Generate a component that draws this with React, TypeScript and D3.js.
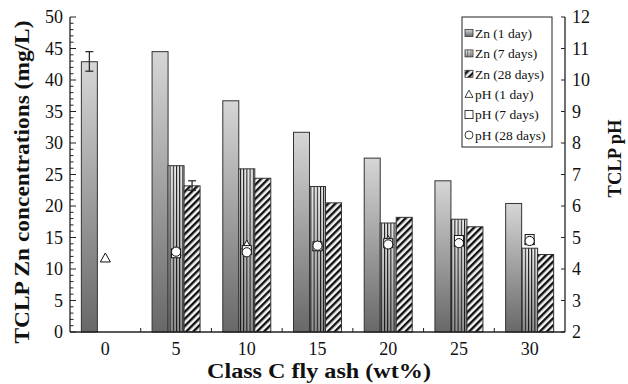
import React from "react";
import * as d3 from "d3";

const ashContents = ["0", "5", "10", "15", "20", "25", "30"];
const zn1Day = [42.9, 44.5, 36.7, 31.7, 27.6, 24.0, 20.4];
const zn7Day = [null, 26.4, 25.9, 23.1, 17.3, 17.9, 13.3];
const zn28Day = [null, 23.2, 24.4, 20.5, 18.2, 16.7, 12.3];
const ph1Day = [4.35, 4.55, 4.76, 4.72, 4.9, 4.85, 4.9];
const ph7Day = [null, 4.5, 4.6, 4.72, 4.82, 4.92, 4.95];
const ph28Day = [null, 4.55, 4.53, 4.74, 4.78, 4.82, 4.89];
// [category index, series (0=1d,1=7d,2=28d), low, high]
const errorBars = [
  [0, 0, 41.4, 44.5],
  [1, 2, 22.5, 24.0],
];
const znTicks = d3.range(0, 51, 5);
const phTicks = d3.range(2, 13, 1);
const legendItems = ["Zn (1 day)", "Zn (7 days)", "Zn (28 days)", "pH (1 day)", "pH (7 days)", "pH (28 days)"];

const W = 628;
const H = 384;
const margin = { top: 17, right: 63, bottom: 52, left: 70 };
const font = "'Liberation Serif', 'Times New Roman', serif";

export default function App() {
  const x = d3.scaleBand().domain(ashContents).range([margin.left, W - margin.right]);
  const y = d3.scaleLinear().domain([0, 50]).range([H - margin.bottom, margin.top]);
  const yPh = d3.scaleLinear().domain([2, 12]).range([H - margin.bottom, margin.top]);
  const barW = 16;
  const series = [zn1Day, zn7Day, zn28Day];
  const fills = ["url(#g1)", "url(#g7)", "url(#hatch)"];
  const barX = (i: number, s: number) => x(ashContents[i])! + x.bandwidth() / 2 - 1.5 * barW + s * barW;
  const cx = (i: number) => x(ashContents[i])! + x.bandwidth() / 2;
  const y0 = y(0);
  const xL = margin.left;
  const xR = W - margin.right;

  const bars: any[] = [];
  series.forEach((vals, s) => {
    vals.forEach((v, i) => {
      if (v == null) return;
      const bx = barX(i, s);
      bars.push(
        <g key={`b${s}-${i}`}>
          <rect x={bx} y={y(v)} width={barW} height={y0 - y(v)} fill={fills[s]} />
          {s === 1 && <rect x={bx} y={y(v)} width={barW} height={y0 - y(v)} fill="url(#vstripe)" />}
          <rect x={bx} y={y(v)} width={barW} height={y0 - y(v)} fill="none" stroke="#333" strokeWidth={1} />
        </g>
      );
    });
  });

  const tri = (px: number, py: number, r = 5) =>
    `M${px},${py - r}L${px + r},${py + r * 0.8}L${px - r},${py + r * 0.8}Z`;

  const legX = 462;

  return (
    <svg width={W} height={H} style={{ position: "absolute", left: 0, top: 0 }} fontFamily={font}>
      <defs>
        <linearGradient id="g1" x1="0" y1="0" x2="0" y2="1">
          <stop offset="0" stopColor="#d6d6d6" />
          <stop offset="1" stopColor="#686868" />
        </linearGradient>
        <linearGradient id="g7" x1="0" y1="0" x2="0" y2="1">
          <stop offset="0" stopColor="#e8e8e8" />
          <stop offset="1" stopColor="#8e8e8e" />
        </linearGradient>
        <pattern id="vstripe" patternUnits="userSpaceOnUse" width={3.2} height={10}>
          <rect x={0} y={0} width={1} height={10} fill="#111" />
        </pattern>
        <pattern id="hatch" patternUnits="userSpaceOnUse" width={5} height={5} patternTransform="rotate(45)">
          <rect x={0} y={0} width={5} height={5} fill="#f4f4f4" />
          <rect x={0} y={0} width={2.4} height={5} fill="#111" />
        </pattern>
      </defs>

      {bars}

      {errorBars.map(([i, s, lo, hi], k) => {
        const ex = barX(i, s) + barW / 2;
        return (
          <g key={`e${k}`} stroke="#222" strokeWidth={1.2}>
            <line x1={ex} x2={ex} y1={y(lo)} y2={y(hi)} />
            <line x1={ex - 4} x2={ex + 4} y1={y(lo)} y2={y(lo)} />
            <line x1={ex - 4} x2={ex + 4} y1={y(hi)} y2={y(hi)} />
          </g>
        );
      })}

      {ph1Day.map((v, i) =>
        v == null ? null : <path key={`t${i}`} d={tri(cx(i), yPh(v))} fill="#fff" stroke="#111" strokeWidth={1} />
      )}
      {ph7Day.map((v, i) =>
        v == null ? null : (
          <rect key={`s${i}`} x={cx(i) - 4.5} y={yPh(v) - 4.5} width={9} height={9} fill="#fff" stroke="#111" strokeWidth={1} />
        )
      )}
      {ph28Day.map((v, i) =>
        v == null ? null : <circle key={`c${i}`} cx={cx(i)} cy={yPh(v)} r={4.6} fill="#fff" stroke="#111" strokeWidth={1} />
      )}

      {/* axes */}
      <g stroke="#222" strokeWidth={1.3}>
        <line x1={xL} x2={xL} y1={margin.top} y2={y0} />
        <line x1={xR} x2={xR} y1={margin.top} y2={y0} />
        <line x1={xL} x2={xR} y1={y0} y2={y0} />
      </g>
      <g stroke="#222" strokeWidth={1}>
        {d3.range(0, 51, 1).map((t) => (
          <line key={`lt${t}`} x1={xL} x2={xL + (t % 5 === 0 ? 6 : 3.5)} y1={y(t)} y2={y(t)} />
        ))}
        {phTicks.map((t) => (
          <line key={`rt${t}`} x1={xR} x2={xR - 4} y1={yPh(t)} y2={yPh(t)} />
        ))}
        {ashContents.slice(1).map((c) => (
          <line key={`xt${c}`} x1={x(c)!} x2={x(c)!} y1={y0} y2={y0 - 4} />
        ))}
      </g>
      <g fontSize={18} fill="#111">
        {znTicks.map((t) => (
          <text key={`ll${t}`} x={xL - 7} y={y(t)} dy="0.35em" textAnchor="end">{t}</text>
        ))}
        {phTicks.map((t) => (
          <text key={`rl${t}`} x={xR + 7} y={yPh(t)} dy="0.35em">{t}</text>
        ))}
        {ashContents.map((c, i) => (
          <text key={`xl${c}`} x={cx(i)} y={355} textAnchor="middle">{c}</text>
        ))}
      </g>

      {/* axis titles */}
      <text x={319} y={378} textAnchor="middle" fontSize={20} fontWeight="bold" fill="#111"
        textLength={224} lengthAdjust="spacingAndGlyphs">Class C fly ash (wt%)</text>
      <text transform={`translate(29,182) rotate(-90)`} textAnchor="middle" fontSize={21} fontWeight="bold" fill="#111"
        textLength={323} lengthAdjust="spacingAndGlyphs">
        TCLP Zn concentrations (mg/L)
      </text>
      <text transform={`translate(621,158.5) rotate(-90)`} textAnchor="middle" fontSize={18.5} fontWeight="bold" fill="#111"
        textLength={78} lengthAdjust="spacingAndGlyphs">
        TCLP pH
      </text>

      {/* legend */}
      <g>
        <rect x={legX} y={17} width={552 - legX} height={130} fill="#fff" stroke="#222" strokeWidth={1} />
        {legendItems.map((label, k) => {
          const ly = 33 + k * 20.4;
          const sx = legX + 3;
          let sym;
          if (k < 3) {
            sym = (
              <g>
                <rect x={sx} y={ly - 3.5} width={8} height={7} fill={fills[k]} />
                {k === 1 && <rect x={sx} y={ly - 3.5} width={8} height={7} fill="url(#vstripe)" opacity={0.4} />}
                <rect x={sx} y={ly - 3.5} width={8} height={7} fill="none" stroke="#333" strokeWidth={0.8} />
              </g>
            );
          } else if (k === 3) {
            sym = <path d={tri(sx + 4, ly, 4)} fill="#fff" stroke="#111" strokeWidth={0.8} />;
          } else if (k === 4) {
            sym = <rect x={sx} y={ly - 4} width={8} height={8} fill="#fff" stroke="#111" strokeWidth={0.8} />;
          } else {
            sym = <circle cx={sx + 4} cy={ly} r={4} fill="#fff" stroke="#111" strokeWidth={0.8} />;
          }
          return (
            <g key={`lg${k}`}>
              {sym}
              <text x={sx + 10} y={ly} dy="0.35em" fontSize={13.5} fill="#111">{label}</text>
            </g>
          );
        })}
      </g>
    </svg>
  );
}
